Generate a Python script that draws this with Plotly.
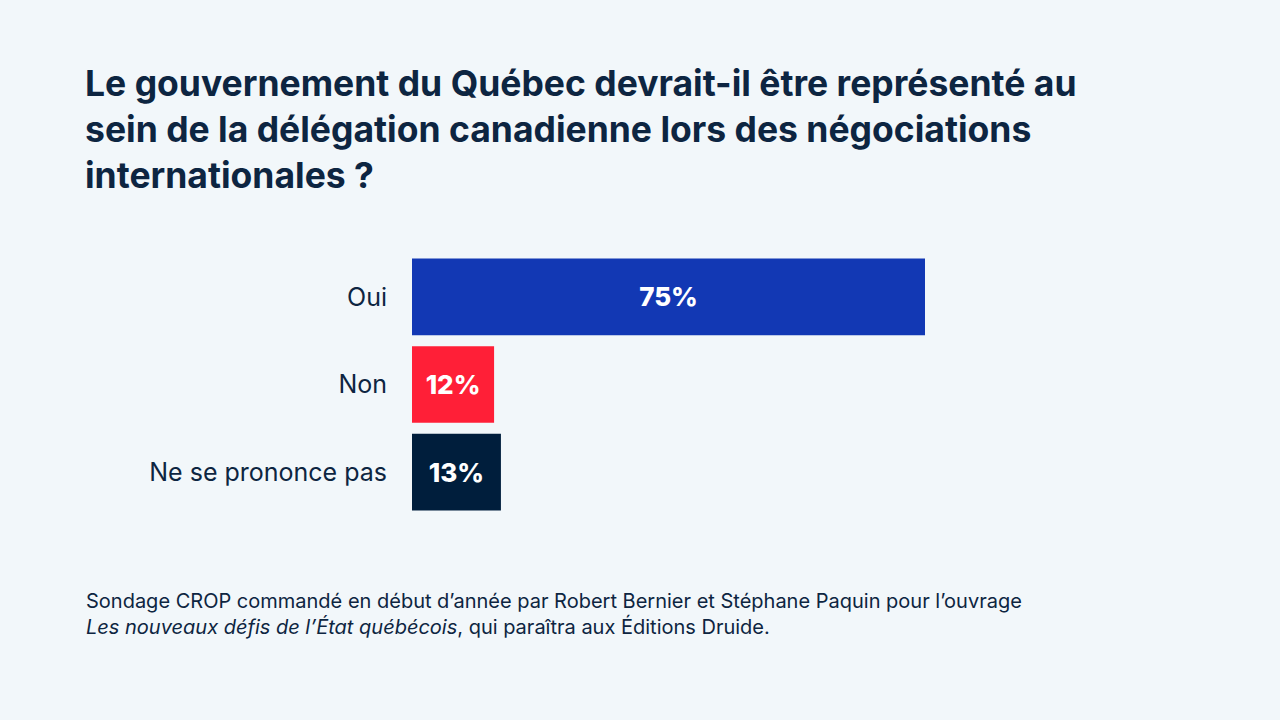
import plotly.graph_objects as go

# Survey answers (top to bottom) and their shares in percent
categories = ["Oui", "Non", "Ne se prononce pas"]
values = [75, 12, 13]
bar_colors = ["#1238B4", "#FF1F37", "#001E3C"]

title_text = ("Le gouvernement du Québec devrait-il être représenté au<br>"
              "sein de la délégation canadienne lors des négociations<br>"
              "internationales ?")
source_text = ("Sondage CROP commandé en début d’année par Robert Bernier et Stéphane Paquin pour l’ouvrage<br>"
               "<i>Les nouveaux défis de l’État québécois</i>, qui paraîtra aux Éditions Druide.")

BG = "#F2F7FA"
NAVY = "#0D2541"
FONT = "Inter, Lato, 'DejaVu Sans', sans-serif"

fig = go.Figure()

fig.add_trace(go.Bar(
    x=values,
    y=categories,
    orientation='h',
    marker=dict(color=bar_colors, line=dict(width=0)),
    text=[f"{v}%" for v in values],
    textposition='inside',
    insidetextanchor='middle',
    textangle=0,
    textfont=dict(size=26, color='white', family=FONT, weight=800),
    hoverinfo='skip',
    showlegend=False,
))

# Left margin and axis span are set so that 1 % ~ 6.84 px, as in the original
fig.update_layout(
    width=1280,
    height=720,
    paper_bgcolor=BG,
    plot_bgcolor=BG,
    margin=dict(l=412, r=184, t=253, b=204, pad=0),
    bargap=0.125,
    title=dict(
        text=title_text,
        x=85 / 1280,
        xanchor='left',
        xref='container',
        y=1 - 96 / 720,
        yanchor='top',
        yref='container',
        font=dict(size=35.5, color=NAVY, family=FONT, weight=700),
    ),
    xaxis=dict(
        range=[0, 100],
        visible=False,
        fixedrange=True,
    ),
    yaxis=dict(
        categoryorder='array',
        categoryarray=categories[::-1],
        showgrid=False,
        zeroline=False,
        showline=False,
        ticks='',
        ticklabelstandoff=24,
        tickfont=dict(size=25, color=NAVY, family=FONT),
    ),
    annotations=[dict(
        text=source_text,
        xref='paper',
        yref='paper',
        x=(84 - 412) / 684,
        xanchor='left',
        y=-(587 - 516) / 263,
        yanchor='top',
        align='left',
        showarrow=False,
        font=dict(size=20, color=NAVY, family=FONT),
    )],
)

# drop the default body margin so the figure sits at the page's top-left corner
fig.write_html("out.html", config={"displayModeBar": False},
               post_script="document.body.style.margin='0';")
